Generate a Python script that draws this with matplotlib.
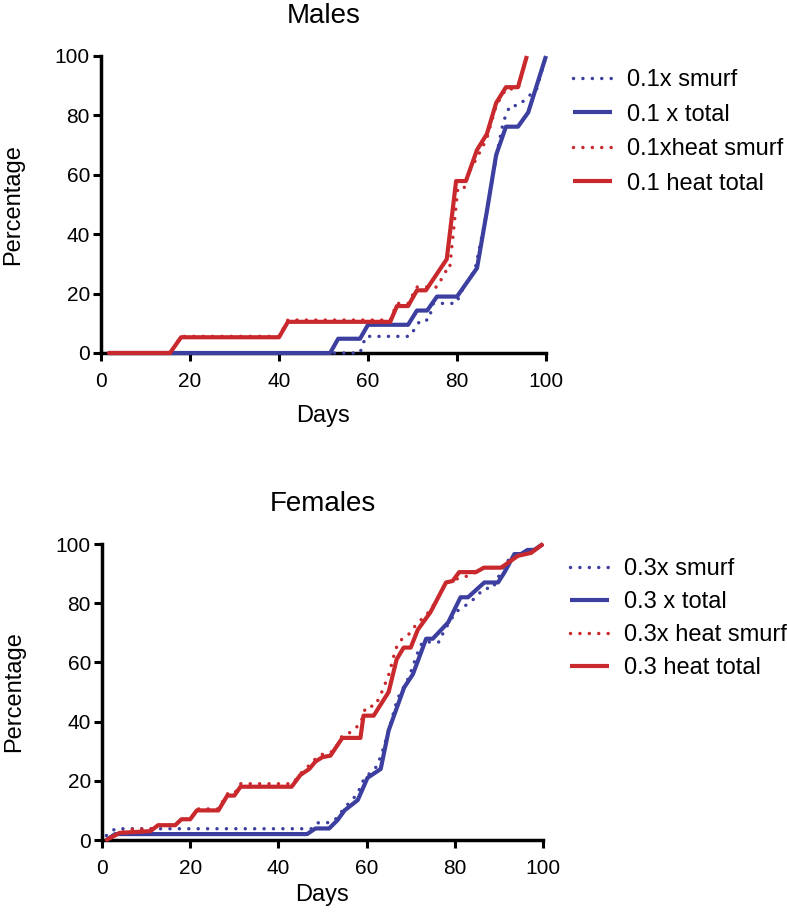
import matplotlib
matplotlib.use("Agg")
import matplotlib.pyplot as plt

plt.rcParams['font.family'] = ['Liberation Sans', 'DejaVu Sans']

BLUE = '#3c3f9f'
RED = '#c9282d'

# ---------------- Males ----------------
m_smurf_days = [1.7, 58.2, 59.5, 69.4, 71.8, 73.6, 74.7, 79.8, 81.5, 84.0, 86.3, 88.9, 90.4, 91.9, 93.8, 97.9, 100]
m_smurf_pct = [0, 0, 5.6, 5.6, 11.1, 11.1, 16.7, 16.7, 22.2, 27.8, 44.4, 66.7, 77.8, 83.3, 83.3, 88.9, 100]

m_total_days = [1.7, 51.5, 53.3, 58.2, 60.0, 69.0, 71.0, 73.3, 75.5, 80.0, 84.5, 86.7, 88.8, 91.0, 93.7, 96.0, 100]
m_total_pct = [0, 0, 4.8, 4.8, 9.5, 9.5, 14.3, 14.3, 19.0, 19.0, 28.6, 47.6, 66.7, 76.2, 76.2, 81.0, 100]

m_heat_smurf_days = [1.7, 15.5, 18, 40, 42, 65, 66.5, 69, 71, 75.5, 77.6, 78.3, 80.2, 81.6, 82.8, 84.8, 86.7, 88.8, 91, 93.7, 95.7]
m_heat_smurf_pct = [0, 0, 5.6, 5.6, 11.1, 11.1, 16.7, 16.7, 22.2, 22.2, 27.8, 27.8, 55.6, 55.6, 61.1, 66.7, 72.2, 83.3, 88.9, 88.9, 100]

m_heat_total_days = [1.7, 15.5, 18, 40, 42, 65, 66.5, 69, 71, 73, 77.7, 79.8, 82, 84.5, 86.7, 88.8, 91, 93.7, 95.7]
m_heat_total_pct = [0, 0, 5.3, 5.3, 10.5, 10.5, 15.8, 15.8, 21.1, 21.1, 31.6, 57.9, 57.9, 68.4, 73.7, 84.2, 89.5, 89.5, 100]

m_labels = ['0.1x smurf', '0.1 x total', '0.1xheat smurf', '0.1 heat total']

# ---------------- Females ----------------
f_smurf_days = [1, 3, 47.5, 49, 51, 52.6, 55.2, 57.9, 59.4, 62.4, 63.9, 67, 69.6, 71.9, 72.7, 76.5, 77.5, 80.2, 83.6, 86.7, 88.6, 91.6, 94.2, 97.3, 100]
f_smurf_pct = [1.5, 3.8, 3.8, 5.8, 5.8, 6.4, 11.2, 15.5, 20.6, 25, 31.3, 47.7, 55, 64.6, 66.9, 66.9, 70.5, 77, 80.4, 85, 85, 94, 96.3, 97.4, 100]

f_total_days = [1, 3, 46.5, 48.4, 51.5, 53.4, 55, 58, 60.2, 63.2, 65, 68.5, 70.5, 73.5, 75, 78.5, 81.3, 83, 86.7, 89.8, 91.3, 93.5, 95, 96.5, 98, 100]
f_total_pct = [0, 2.0, 2.0, 3.9, 3.9, 6.7, 10, 13.5, 21, 24, 37, 51.5, 56, 68, 68, 73.5, 82, 82, 87, 87, 90.5, 96.6, 96.6, 98, 98, 100]

f_heat_smurf_days = [1, 4, 7, 11, 12.8, 16.6, 18, 20, 21.5, 26.4, 28.4, 30, 31.4, 43.2, 45, 47.3, 49.1, 50.7, 52.6, 54.5, 56.4, 58.6, 59.8, 62, 63.6, 65.1, 66.6, 67.7, 69.2, 71.1, 74.5, 78, 80, 83.6, 86.6, 90.5, 94.3, 97.3, 100]
f_heat_smurf_pct = [0, 2.4, 3.7, 3.7, 5, 5, 7, 7, 10.5, 10.5, 15.6, 15.6, 19, 19, 22.4, 25.7, 28.5, 29.3, 30, 35.3, 36.4, 39.3, 44.9, 45.4, 50.5, 56.2, 64.6, 67.5, 68.8, 72.5, 77.6, 86.7, 88, 89.5, 92, 92, 96, 97, 100]

f_heat_total_days = [1, 4, 11, 12.7, 16.6, 18, 20, 21.5, 26.4, 28.4, 30, 31.4, 43, 45, 47, 48.4, 50, 51.8, 54.5, 58.6, 59.3, 61.6, 65, 66.8, 68.4, 70, 71.6, 74.5, 78, 79.5, 81, 84.8, 86.6, 90.5, 94.3, 97.3, 100]
f_heat_total_pct = [0, 2.4, 3, 5, 5, 7, 7, 10, 10, 15, 15, 18, 18, 22, 24, 26.5, 28, 28.5, 34.5, 34.5, 42, 42, 50, 61, 65, 65, 71, 77, 87, 87.5, 90.5, 90.5, 92, 92, 96, 97, 100]

f_labels = ['0.3x smurf', '0.3 x total', '0.3x heat smurf', '0.3 heat total']

ticks = [0, 20, 40, 60, 80, 100]

fig = plt.figure(figsize=(7.87, 9.13), dpi=100)
ax1 = fig.add_axes([101/787, 1-353/913, (546-101)/787, (353-56)/913])
ax2 = fig.add_axes([102/787, 1-840/913, (543-102)/787, (840-544)/913])

DOT = (0, (0.01, 2.7))

def draw(ax, series, labels, title, leg_anchor, xlabelpad, labelspacing):
    styles = [(BLUE, DOT, 2.5), (BLUE, '-', 3.0), (RED, DOT, 2.5), (RED, '-', 3.0)]
    for i, ((d, p), (c, ls, lw), lab) in enumerate(zip(series, styles, labels)):
        ax.plot(d, p, color=c, linestyle=ls, lw=lw, label=lab,
                dash_capstyle='round', solid_capstyle='butt',
                clip_on=False, zorder=3 + i)
    ax.set_xlim(0, 100)
    ax.set_ylim(0, 100)
    ax.set_xticks(ticks)
    ax.set_yticks(ticks)
    for s in ['top', 'right']:
        ax.spines[s].set_visible(False)
    for s in ['left', 'bottom']:
        ax.spines[s].set_linewidth(2.5)
    ax.tick_params(axis='both', direction='out', length=6, width=2.2, labelsize=15, pad=2)
    ax.tick_params(axis='x', pad=7.5)
    ax.set_xlabel('Days', fontsize=17, labelpad=xlabelpad)
    ax.set_ylabel('Percentage', fontsize=17, labelpad=22)
    ax.set_title(title, fontsize=20, pad=24)
    leg = ax.legend(loc='upper left', bbox_to_anchor=leg_anchor,
                    bbox_transform=fig.transFigure, frameon=False, fontsize=17,
                    handlelength=1.65, handletextpad=0.64, labelspacing=labelspacing,
                    borderpad=0, borderaxespad=0)
    return leg

draw(ax1, [(m_smurf_days, m_smurf_pct), (m_total_days, m_total_pct),
           (m_heat_smurf_days, m_heat_smurf_pct), (m_heat_total_days, m_heat_total_pct)],
     m_labels, 'Males', (573/787, 1-69/913), 10.5, 0.53)
draw(ax2, [(f_smurf_days, f_smurf_pct), (f_total_days, f_total_pct),
           (f_heat_smurf_days, f_heat_smurf_pct), (f_heat_total_days, f_heat_total_pct)],
     f_labels, 'Females', (570/787, 1-558/913), 4.5, 0.47)

fig.savefig('out.png', dpi=100)
